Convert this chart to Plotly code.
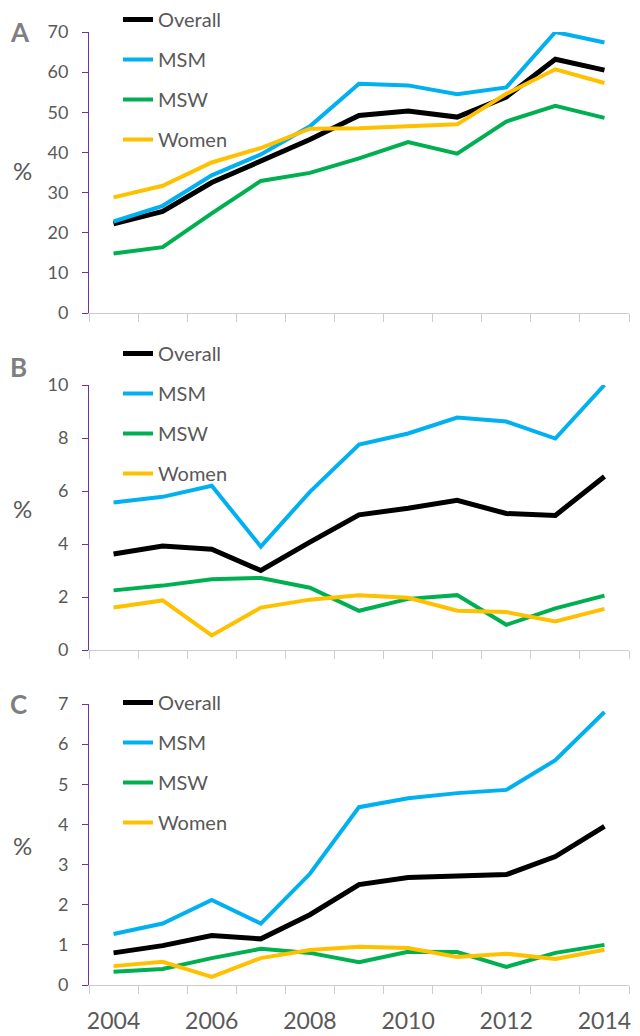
import plotly.graph_objects as go

years = list(range(2004, 2015))
series_names = ["Overall", "MSM", "MSW", "Women"]
colors = ["#000000", "#00B0F0", "#00B050", "#FFC000"]
widths = [5, 4, 4, 4]

# Panel A
a_overall = [22.2, 25.3, 32.5, 38.0, 43.2, 49.2, 50.3, 48.8, 53.8, 63.2, 60.5]
a_msm = [22.8, 26.7, 34.3, 39.5, 46.5, 57.1, 56.7, 54.5, 56.2, 70.0, 67.4]
a_msw = [14.8, 16.4, 24.8, 32.9, 34.9, 38.5, 42.6, 39.7, 47.7, 51.6, 48.6]
a_women = [28.8, 31.7, 37.5, 41.1, 45.9, 46.0, 46.5, 47.0, 54.6, 60.7, 57.3]
# Panel B
b_overall = [3.62, 3.92, 3.80, 3.00, 4.07, 5.10, 5.35, 5.65, 5.15, 5.08, 6.55]
b_msm = [5.57, 5.78, 6.20, 3.90, 5.97, 7.75, 8.17, 8.77, 8.62, 7.98, 10.0]
b_msw = [2.25, 2.43, 2.67, 2.72, 2.35, 1.48, 1.93, 2.07, 0.95, 1.57, 2.05]
b_women = [1.60, 1.87, 0.55, 1.60, 1.90, 2.07, 1.97, 1.48, 1.43, 1.08, 1.55]
# Panel C
c_overall = [0.80, 0.98, 1.23, 1.15, 1.75, 2.50, 2.68, 2.73, 2.75, 3.20, 3.95]
c_msm = [1.27, 1.53, 2.12, 1.53, 2.77, 4.43, 4.65, 4.78, 4.86, 5.60, 6.80]
c_msw = [0.33, 0.40, 0.67, 0.90, 0.80, 0.57, 0.83, 0.82, 0.45, 0.80, 1.00]
c_women = [0.47, 0.58, 0.20, 0.67, 0.87, 0.95, 0.92, 0.70, 0.78, 0.65, 0.88]

panels = [
    ("A", [a_overall, a_msm, a_msw, a_women], 70, 10),
    ("B", [b_overall, b_msm, b_msw, b_women], 10, 2),
    ("C", [c_overall, c_msm, c_msw, c_women], 7, 1),
]
year_labels = [2004, 2006, 2008, 2010, 2012, 2014]

# figure size (page body adds an 8px margin)
W, H = 632, 1028
# pixel geometry in figure coords: (top, bottom) of each plot area
pix = [(24, 305), (377, 642), (696, 977)]
x0, x1 = 81, 621
legend_top = [-8, 326, 675]
letter_y = [24, 359, 696]
pct_y = [162, 500, 837]

FONT = "Lato, Calibri, 'Open Sans', sans-serif"
GRAY = "#595959"
PURPLE = "#7030A0"

fig = go.Figure()
layout = dict(
    width=W, height=H,
    margin=dict(l=0, r=0, t=0, b=0, autoexpand=False),
    paper_bgcolor="white", plot_bgcolor="white",
    font=dict(family=FONT, color=GRAY),
    showlegend=True,
)
annotations = []
for i, (letter, data, ymax, dtick) in enumerate(panels):
    n = i + 1
    xa = "x" if n == 1 else f"x{n}"
    ya = "y" if n == 1 else f"y{n}"
    leg = "legend" if n == 1 else f"legend{n}"
    for name, vals, col, w in zip(series_names, data, colors, widths):
        fig.add_trace(go.Scatter(
            x=years, y=vals, mode="lines", name=name,
            line=dict(color=col, width=w),
            xaxis=xa, yaxis=ya, legend=leg, legendgroup=f"{letter}{name}",
            cliponaxis=False,
        ))
    top, bot = pix[i]
    xkey = "xaxis" if n == 1 else f"xaxis{n}"
    ykey = "yaxis" if n == 1 else f"yaxis{n}"
    layout[xkey] = dict(
        domain=[x0 / W, x1 / W], anchor=ya, range=[2003.5, 2014.5],
        showline=True, linecolor="#CCCCCC", linewidth=1,
        showgrid=False, zeroline=False, automargin=False,
        tickvals=year_labels, ticks="", showticklabels=(n == 3),
        ticklabelstandoff=15,
        tickfont=dict(size=23, color=GRAY, family=FONT),
        minor=dict(tick0=2003.5, dtick=1, ticks="outside", ticklen=8,
                   tickcolor="#CCCCCC", tickwidth=1, showgrid=False),
    )
    layout[ykey] = dict(
        domain=[(H - bot) / H, (H - top) / H], anchor=xa, range=[0, ymax],
        dtick=dtick, tick0=0, automargin=False,
        showline=True, linecolor=PURPLE, linewidth=1,
        ticks="outside", ticklen=6, tickcolor=PURPLE,
        ticklabelstandoff=10,
        showgrid=False, zeroline=False,
        tickfont=dict(size=18, color=GRAY, family=FONT),
    )
    layout[leg] = dict(
        x=110 / W, y=(H - legend_top[i]) / H, xanchor="left", yanchor="top",
        bgcolor="rgba(0,0,0,0)", font=dict(size=20, color=GRAY, family=FONT),
        tracegroupgap=11, itemwidth=30,
    )
    annotations.append(dict(
        text=f"<b>{letter}</b>", x=0, y=(H - letter_y[i]) / H,
        xref="paper", yref="paper", xanchor="left", yanchor="middle",
        showarrow=False, font=dict(size=26, color="#7F7F7F", family=FONT),
    ))
    annotations.append(dict(
        text="%", x=14 / W, y=(H - pct_y[i]) / H,
        xref="paper", yref="paper", xanchor="center", yanchor="middle",
        showarrow=False, font=dict(size=24, color=GRAY, family=FONT),
    ))
layout["annotations"] = annotations
fig.update_layout(**layout)
fig.write_html("out.html")
